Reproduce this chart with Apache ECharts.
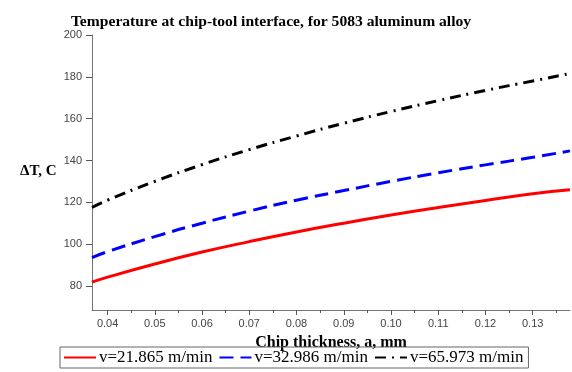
<!DOCTYPE html>
<html>
<head>
<meta charset="utf-8">
<script src="https://cdn.jsdelivr.net/npm/echarts@6/dist/echarts.min.js"></script>
<style>
  html, body { margin: 0; padding: 0; background: #fff; }
  #chart { width: 572px; height: 372px; }
</style>
</head>
<body>
<div id="chart"></div>
<script>
// chip thickness a, mm (sampled along the curves)
let thickness = [0.0367, 0.04, 0.05, 0.06, 0.07, 0.08, 0.09, 0.10, 0.11, 0.12, 0.13, 0.1379]
// delta T, C
let tempV1 = [81.8, 84.2, 90.5, 96.2, 101.2, 105.8, 110.0, 113.9, 117.5, 120.9, 124.1, 126.0]
let tempV2 = [93.6, 96.4, 103.6, 110.0, 115.8, 121.0, 125.6, 130.0, 134.1, 137.9, 141.5, 144.6]
let tempV3 = [117.5, 121.0, 130.0, 138.0, 145.2, 151.7, 157.8, 163.4, 168.6, 173.5, 178.0, 181.6]

let seriesNames = ['v=21.865 m/min', 'v=32.986 m/min', 'v=65.973 m/min']

let xTicks = [0.04, 0.05, 0.06, 0.07, 0.08, 0.09, 0.10, 0.11, 0.12, 0.13]
let xMinorTicks = [0.045, 0.055, 0.065, 0.075, 0.085, 0.095, 0.105, 0.115, 0.125, 0.135]
let yTicks = [80, 100, 120, 140, 160, 180, 200]

function pairs(ys) {
    return thickness.map((x, i) => [x, ys[i]])
}

let serif = '"Liberation Serif", "Times New Roman", serif'
let sans = '"Liberation Sans", Arial, sans-serif'

let chart = echarts.init(document.getElementById('chart'))

let option = {
    animation: false,
    backgroundColor: '#fff',
    title: {
        text: 'Temperature at chip-tool interface, for 5083 aluminum alloy',
        left: 266,
        textAlign: 'center',
        top: 9,
        textStyle: { fontFamily: serif, fontSize: 15.6, fontWeight: 'bold', color: '#000' }
    },
    grid: { left: 92, right: 2, top: 35, bottom: 62 },
    legend: {
        left: 60,
        top: 347,
        padding: [2, 5, 2, 3],
        itemGap: 6,
        itemWidth: 32,
        itemHeight: 14,
        borderColor: '#666',
        borderWidth: 1,
        borderRadius: 0,
        data: seriesNames,
        itemStyle: { opacity: 0 },
        textStyle: { fontFamily: serif, fontSize: 17, color: '#000', padding: [0, 0, 0, -2] }
    },
    xAxis: [
        {
            type: 'value',
            min: 0.0367,
            max: 0.1379,
            name: 'Chip thickness, a, mm',
            nameLocation: 'middle',
            nameGap: 25,
            nameTextStyle: { fontFamily: serif, fontSize: 16, fontWeight: 'bold', color: '#000' },
            axisLine: { lineStyle: { color: '#777', width: 1 } },
            axisTick: { customValues: xTicks, length: 5, lineStyle: { color: '#555' } },
            axisLabel: {
                customValues: xTicks,
                margin: 8,
                fontFamily: sans, fontSize: 11, color: '#444',
                formatter: v => v.toFixed(2)
            },
            splitLine: { show: false }
        },
        {
            type: 'value',
            position: 'bottom',
            min: 0.0367,
            max: 0.1379,
            axisLine: { show: false },
            axisTick: { customValues: xMinorTicks, length: 3, lineStyle: { color: '#555' } },
            axisLabel: { show: false },
            splitLine: { show: false }
        }
    ],
    yAxis: {
        type: 'value',
        min: 68.5,
        max: 200,
        axisLine: { show: true, lineStyle: { color: '#777', width: 1 } },
        axisTick: { show: true, customValues: yTicks, length: 6, lineStyle: { color: '#555' } },
        axisLabel: { customValues: yTicks, margin: 10, fontFamily: sans, fontSize: 11, color: '#444' },
        splitLine: { show: false }
    },
    graphic: [
        {
            type: 'text',
            left: 20,
            top: 164,
            style: { text: 'ΔT, C', font: 'bold 15px ' + serif, fill: '#000' }
        }
    ],
    series: [
        {
            name: seriesNames[0],
            type: 'line',
            data: pairs(tempV1),
            smooth: true,
            symbol: 'none',
            lineStyle: { color: '#ff0000', width: 3 },
            itemStyle: { color: '#ff0000' }
        },
        {
            name: seriesNames[1],
            type: 'line',
            data: pairs(tempV2),
            smooth: true,
            symbol: 'none',
            lineStyle: { color: '#0000ff', width: 3, type: [14, 7] },
            itemStyle: { color: '#0000ff' }
        },
        {
            name: seriesNames[2],
            type: 'line',
            data: pairs(tempV3),
            smooth: true,
            symbol: 'none',
            lineStyle: { color: '#000', width: 3, type: [11, 6, 2, 6] },
            itemStyle: { color: '#000' }
        }
    ]
}

chart.setOption(option)
</script>
</body>
</html>
